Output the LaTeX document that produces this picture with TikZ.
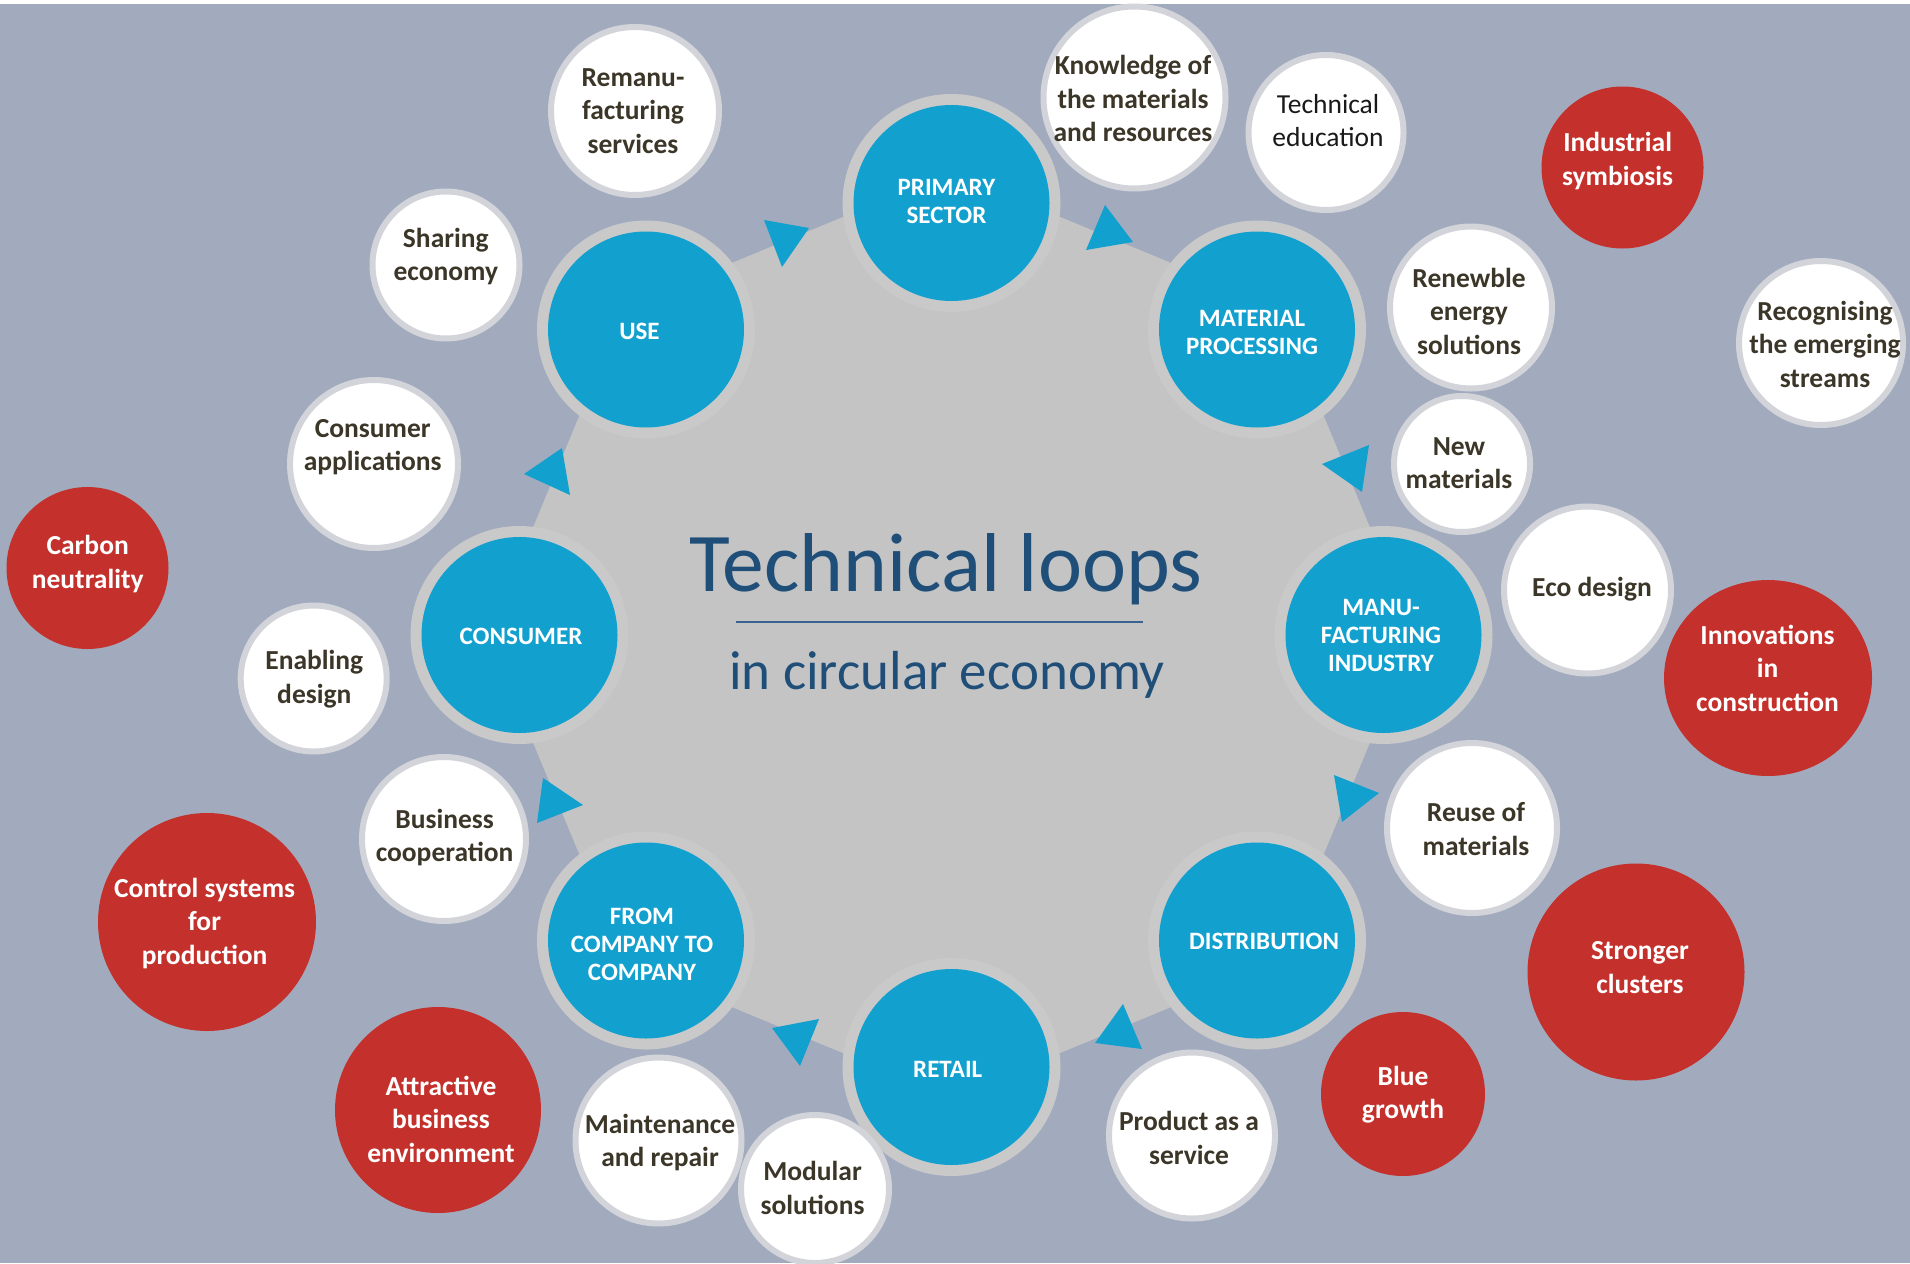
\documentclass[tikz,border=0pt]{standalone}
\usepackage{fontspec}
\setmainfont{Carlito}
\definecolor{bg}{HTML}{A2ABBE}
\definecolor{octa}{HTML}{C4C4C4}
\definecolor{ringgray}{HTML}{C9C9C9}
\definecolor{bblue}{HTML}{12A0CE}
\definecolor{rred}{HTML}{C4302B}
\definecolor{wring}{HTML}{D2D4D9}
\definecolor{txt}{HTML}{3C3629}
\definecolor{titlec}{HTML}{1F4E79}
\definecolor{rulec}{HTML}{3A6390}
\newcommand\mkbub[8]{%
  \fill[#1] (#2,#3) circle (#4pt);
  \node[#6] (#5) at (#7) {#8};
}
\begin{document}
\begin{tikzpicture}[x=1pt,y=-1pt,
  wbub/.style={fill=white,draw=wring,line width=6pt},
  rbub/.style={fill=rred},
  bring/.style={fill=ringgray},
  bbub/.style={fill=bblue},
  tri/.style={fill=bblue},
  wlab/.style={align=center,inner sep=0pt,text=txt,font=\bfseries\fontsize{27.5}{33.5}\selectfont},
  wlabr/.style={align=center,inner sep=0pt,text=black!90,font=\fontsize{27.5}{33.5}\selectfont},
  rlab/.style={align=center,inner sep=0pt,text=white,font=\bfseries\fontsize{27.5}{33.5}\selectfont},
  blab/.style={align=center,inner sep=0pt,text=white,font=\bfseries\fontsize{25}{28}\selectfont}]
\useasboundingbox (0,0) rectangle (1910,1263);
\fill[white] (0,0) rectangle (1910,1263);
\fill[bg] (0,4) rectangle (1910,1263);
% central octagon
\fill[octa] (1414.5,635) -- (1278.9,307.6) -- (951.5,172) -- (624.1,307.6) -- (488.5,635) -- (624.1,962.4) -- (951.5,1098) -- (1278.9,962.4) -- cycle;
% blue stage circles
\mkbub{bring}{951.5}{203}{109}{r1}{}{951.5,203}{}
\mkbub{bring}{1257}{329.5}{109}{r2}{}{1257,329.5}{}
\mkbub{bring}{1383.5}{635}{109}{r3}{}{1383.5,635}{}
\mkbub{bring}{1257}{940.5}{109}{r4}{}{1257,940.5}{}
\mkbub{bring}{951.5}{1067}{109}{r5}{}{951.5,1067}{}
\mkbub{bring}{646}{940.5}{109}{r6}{}{646,940.5}{}
\mkbub{bring}{519.5}{635}{109}{r7}{}{519.5,635}{}
\mkbub{bring}{646}{329.5}{109}{r8}{}{646,329.5}{}
\mkbub{bbub}{951.5}{203}{98}{primary}{blab}{946.5,201.6}{PRIMARY\\SECTOR}
\mkbub{bbub}{1257}{329.5}{98}{material}{blab}{1252,332.5}{MATERIAL\\PROCESSING}
\mkbub{bbub}{1383.5}{635}{98}{manu}{blab}{1381,635.8}{MANU-\\FACTURING\\INDUSTRY}
\mkbub{bbub}{1257}{940.5}{98}{distribution}{blab}{1264,941.6}{DISTRIBUTION}
\mkbub{bbub}{951.5}{1067}{98}{retail}{blab}{947.7,1069.5}{RETAIL}
\mkbub{bbub}{646}{940.5}{98}{fromc}{blab}{642,944}{FROM\\COMPANY TO\\COMPANY}
\mkbub{bbub}{519.5}{635}{98}{consumer}{blab}{521,636}{CONSUMER}
\mkbub{bbub}{646}{329.5}{98}{use}{blab}{639.5,331}{USE}
% arrowheads
\fill[tri] (764,220) -- (809,228) -- (782,267) -- cycle;
\fill[tri] (1105,205) -- (1086,250) -- (1133,242) -- cycle;
\fill[tri] (1322,464) -- (1369,445) -- (1362,492) -- cycle;
\fill[tri] (1334,775) -- (1379,793) -- (1342,822) -- cycle;
\fill[tri] (1123,1004) -- (1095,1043) -- (1142,1049) -- cycle;
\fill[tri] (772,1028) -- (819,1019) -- (800,1066) -- cycle;
\fill[tri] (543,778) -- (583,805) -- (537,823) -- cycle;
\fill[tri] (562,448) -- (524,474) -- (570,495) -- cycle;
% white bubbles
\mkbub{wbub}{635}{111}{84}{remanu}{wlab}{633,111}{Remanu-\\facturing\\services}
\mkbub{wbub}{1134.5}{97.5}{91}{knowledge}{wlab}{1133,98.7}{Knowledge of\\the materials\\and resources}
\mkbub{wbub}{1326}{132.5}{77.5}{techedu}{wlabr}{1328,120.6}{Technical\\education}
\mkbub{wbub}{1471}{307.5}{81}{renew}{wlab}{1469,311.4}{Renewble\\energy\\solutions}
\mkbub{wbub}{1462}{464}{68}{newmat}{wlab}{1459,463}{New\\materials}
\mkbub{wbub}{1821}{343}{82}{recog}{wlab}{1825,344}{Recognising\\the emerging\\streams}
\mkbub{wbub}{1587.5}{590}{83.5}{eco}{wlab}{1592,589.6}{Eco design}
\mkbub{wbub}{1472}{828}{85}{reuse}{wlab}{1476,829}{Reuse of\\materials}
\mkbub{wbub}{1192}{1135.5}{83}{product}{wlab}{1189,1137.7}{Product as a\\service}
\mkbub{wbub}{658.5}{1140.5}{83}{maint}{wlab}{660,1142.6}{Maintenance\\and repair}
\mkbub{wbub}{815}{1189}{74}{modular}{wlab}{812.5,1188}{Modular\\solutions}
\mkbub{wbub}{444}{839}{82}{business}{wlab}{444.6,837.4}{Business\\cooperation}
\mkbub{wbub}{313.7}{678.5}{73}{enabling}{wlab}{314.3,679}{Enabling\\design}
\mkbub{wbub}{374}{464}{84}{consapp}{wlab}{372.7,447}{Consumer\\applications}
\mkbub{wbub}{446}{265}{73.5}{sharing}{wlab}{445.8,256.4}{Sharing\\economy}
% red bubbles
\mkbub{rbub}{1622.5}{167.5}{81}{indsym}{rlab}{1617.6,160.8}{Industrial\\symbiosis}
\mkbub{rbub}{87.5}{568}{81}{carbon}{rlab}{87.7,564}{Carbon\\neutrality}
\fill[rbub] (1768,678) ellipse [x radius=104pt, y radius=98pt];
\node[rlab] (innov) at (1767.5,668) {Innovations\\in\\construction};
\mkbub{rbub}{1636}{972}{108.5}{stronger}{rlab}{1640,967.8}{Stronger\\clusters}
\mkbub{rbub}{1403}{1094}{82}{bluegrowth}{rlab}{1403,1094.5}{Blue\\growth}
\mkbub{rbub}{207}{922}{109}{control}{rlab}{204.6,923.3}{Control systems\\for\\production}
\mkbub{rbub}{438}{1110}{103}{attractive}{rlab}{441,1119}{Attractive\\business\\environment}
% title
\node[inner sep=0pt,text=titlec,font=\fontsize{83.5}{90}\selectfont] (title) at (946,569) {Technical loops};
\node[inner sep=0pt,text=titlec,font=\fontsize{55}{60}\selectfont] (subtitle) at (947,675) {in circular economy};
\coordinate (ruleL) at (736,621.5);
\coordinate (ruleR) at (1143,621.5);
\draw[rulec,line width=2pt] (ruleL) -- (ruleR);
\end{tikzpicture}
\end{document}
